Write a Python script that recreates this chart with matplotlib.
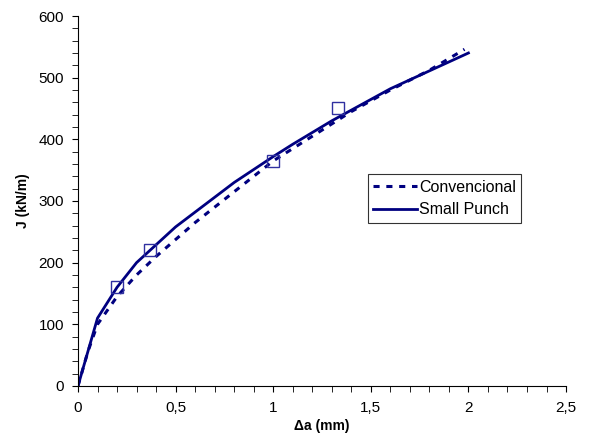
import matplotlib
matplotlib.use("Agg")
import matplotlib.pyplot as plt
from matplotlib.ticker import MultipleLocator, FuncFormatter

plt.rcParams["font.family"] = ["Liberation Sans", "DejaVu Sans"]

# Convencional (dashed)
conv_x = [0, 0.05, 0.1, 0.2, 0.3, 0.4, 0.6, 0.8, 1.0, 1.2, 1.4, 1.6, 1.8, 1.98]
conv_y = [0, 55, 100, 145, 180, 210, 265, 315, 365, 405, 445, 480, 512, 546]

# Small Punch (solid)
sp_x = [0, 0.1, 0.2, 0.3, 0.5, 0.8, 1.0, 1.1, 1.3, 1.6, 2.0]
sp_y = [0, 110, 160, 200, 258, 330, 372, 392, 430, 482, 540]

# open square markers
pts_x = [0.2, 0.37, 1.0, 1.33]
pts_y = [160, 220, 365, 450]

fig = plt.figure(figsize=(5.89, 4.36), dpi=100)
ax = fig.add_axes([0.1324, 0.1147, 0.8286, 0.8486])

ax.plot(conv_x, conv_y, color="#000080", lw=2.2, ls=(0, (2, 2.2)), label="Convencional")
ax.plot(sp_x, sp_y, color="#000080", lw=2, label="Small Punch")
ax.plot(pts_x, pts_y, ls="none", marker="s", ms=8, mfc="none", mec="#3030a0", mew=1)

ax.set_xlim(0, 2.5)
ax.set_ylim(0, 600)
ax.xaxis.set_major_locator(MultipleLocator(0.5))
ax.xaxis.set_minor_locator(MultipleLocator(0.1))
ax.yaxis.set_major_locator(MultipleLocator(100))
ax.yaxis.set_minor_locator(MultipleLocator(20))
ax.xaxis.set_major_formatter(FuncFormatter(lambda v, p: ("%g" % v).replace(".", ",")))
ax.tick_params(which="both", direction="out", labelsize=11, colors="black")
ax.tick_params(which="major", length=4)
ax.tick_params(which="minor", length=4)
ax.tick_params(axis="x", pad=7)
ax.tick_params(axis="y", pad=6)
ax.spines["top"].set_visible(False)
ax.spines["right"].set_visible(False)

ax.set_xlabel("\u0394a (mm)", fontsize=10, fontweight="bold", labelpad=3)
ax.set_ylabel("J (kN/m)", fontsize=10, fontweight="bold", labelpad=6)

leg = ax.legend(loc="upper left", bbox_to_anchor=(0.594, 0.572), borderaxespad=0,
                frameon=True, fancybox=False, edgecolor="black", fontsize=11.5,
                handlelength=2.75, handletextpad=0.1, borderpad=0.35,
                labelspacing=0.45)
leg.get_frame().set_linewidth(0.8)

fig.savefig("out.png", dpi=100)
